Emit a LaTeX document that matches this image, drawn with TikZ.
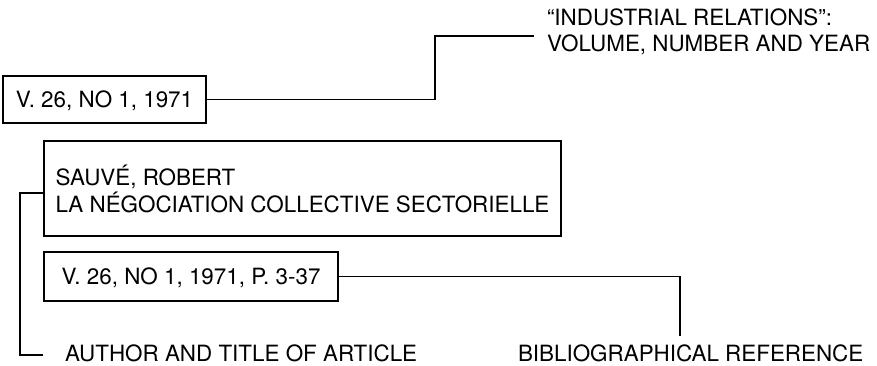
\documentclass[tikz,border=0pt]{standalone}
\usepackage{fontspec}
\setmainfont{TeX Gyre Heros}
\begin{document}
\begin{tikzpicture}[x=1pt,y=-1pt,
  font=\fontsize{22.4}{27}\selectfont,
  conn/.style={line width=1.8pt},
  box/.style={draw, line width=1.8pt, anchor=north west, align=left,
    inner sep=0pt, outer sep=0pt},
  lab/.style={inner sep=0pt, outer sep=0pt, align=left}]
\useasboundingbox (0,0) rectangle (877,366);
% boxes
\node[box, minimum width=203, minimum height=47, text height=16, text depth=0pt] (b1) at (3,76) {V. 26, NO 1, 1971};
\node[box, minimum width=517, minimum height=95] (b2) at (44,141) {SAUVÉ, ROBERT\\LA NÉGOCIATION COLLECTIVE SECTORIELLE};
\node[box, minimum width=294, minimum height=49, text height=16, text depth=0pt] (b3) at (44,252) {V. 26, NO 1, 1971, P. 3-37};
% labels
\node[lab, anchor=north west, font=\fontsize{22.4}{26}\selectfont] (l1) at (547,9) {“INDUSTRIAL RELATIONS”:\\VOLUME, NUMBER AND YEAR};
\node[lab, anchor=base west] (l2) at (65,361) {AUTHOR AND TITLE OF ARTICLE};
\node[lab, anchor=base west] (l3) at (518,361) {BIBLIOGRAPHICAL REFERENCE};
% connector points
\coordinate (k1) at (435,36);
\coordinate (c1) at (534,36);
\coordinate (k2) at (20,193);
\coordinate (c2) at (43,355);
\coordinate (c3) at (680,336);
% connectors
\draw[conn] (b1.east) -| (k1) -- (c1);
\draw[conn] (b2.west |- k2) -- (k2) -- (k2 |- c2) -- (c2);
\draw[conn] (b3.east) -| (c3);
\end{tikzpicture}
\end{document}
